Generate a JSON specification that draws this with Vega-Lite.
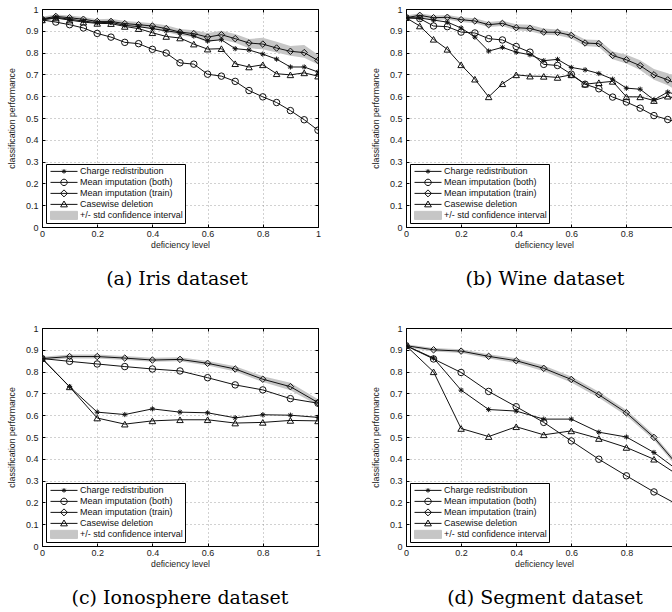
{
  "$schema": "https://vega.github.io/schema/vega-lite/v6.json",
  "background": "white",
  "padding": {"left": 7, "top": 5, "right": 0, "bottom": 0},
  "columns": 2,
  "spacing": {"row": 101, "column": 88},
  "bounds": "flush",
  "resolve": {"scale": {"shape": "independent", "fill": "independent", "stroke": "independent"}},
  "datasets": {
    "a": [
      {"x": 0, "Charge redistribution": 0.952, "Mean imputation (both)": 0.95, "Mean imputation (train)": 0.955, "Casewise deletion": 0.95, "lo": 0.945, "hi": 0.965},
      {"x": 0.05, "Charge redistribution": 0.962, "Mean imputation (both)": 0.94, "Mean imputation (train)": 0.966, "Casewise deletion": 0.959, "lo": 0.955, "hi": 0.975},
      {"x": 0.1, "Charge redistribution": 0.953, "Mean imputation (both)": 0.928, "Mean imputation (train)": 0.96, "Casewise deletion": 0.949, "lo": 0.95, "hi": 0.97},
      {"x": 0.15, "Charge redistribution": 0.945, "Mean imputation (both)": 0.913, "Mean imputation (train)": 0.953, "Casewise deletion": 0.94, "lo": 0.943, "hi": 0.963},
      {"x": 0.2, "Charge redistribution": 0.937, "Mean imputation (both)": 0.888, "Mean imputation (train)": 0.943, "Casewise deletion": 0.934, "lo": 0.933, "hi": 0.953},
      {"x": 0.25, "Charge redistribution": 0.939, "Mean imputation (both)": 0.871, "Mean imputation (train)": 0.943, "Casewise deletion": 0.933, "lo": 0.933, "hi": 0.955},
      {"x": 0.3, "Charge redistribution": 0.925, "Mean imputation (both)": 0.847, "Mean imputation (train)": 0.933, "Casewise deletion": 0.92, "lo": 0.922, "hi": 0.945},
      {"x": 0.35, "Charge redistribution": 0.919, "Mean imputation (both)": 0.841, "Mean imputation (train)": 0.928, "Casewise deletion": 0.91, "lo": 0.917, "hi": 0.94},
      {"x": 0.4, "Charge redistribution": 0.91, "Mean imputation (both)": 0.815, "Mean imputation (train)": 0.922, "Casewise deletion": 0.891, "lo": 0.908, "hi": 0.935},
      {"x": 0.45, "Charge redistribution": 0.9, "Mean imputation (both)": 0.798, "Mean imputation (train)": 0.91, "Casewise deletion": 0.874, "lo": 0.895, "hi": 0.925},
      {"x": 0.5, "Charge redistribution": 0.891, "Mean imputation (both)": 0.753, "Mean imputation (train)": 0.894, "Casewise deletion": 0.867, "lo": 0.878, "hi": 0.908},
      {"x": 0.55, "Charge redistribution": 0.876, "Mean imputation (both)": 0.747, "Mean imputation (train)": 0.887, "Casewise deletion": 0.839, "lo": 0.872, "hi": 0.902},
      {"x": 0.6, "Charge redistribution": 0.853, "Mean imputation (both)": 0.701, "Mean imputation (train)": 0.871, "Casewise deletion": 0.816, "lo": 0.848, "hi": 0.89},
      {"x": 0.65, "Charge redistribution": 0.859, "Mean imputation (both)": 0.692, "Mean imputation (train)": 0.882, "Casewise deletion": 0.818, "lo": 0.86, "hi": 0.9},
      {"x": 0.7, "Charge redistribution": 0.818, "Mean imputation (both)": 0.668, "Mean imputation (train)": 0.864, "Casewise deletion": 0.749, "lo": 0.845, "hi": 0.885},
      {"x": 0.75, "Charge redistribution": 0.812, "Mean imputation (both)": 0.626, "Mean imputation (train)": 0.844, "Casewise deletion": 0.734, "lo": 0.82, "hi": 0.862},
      {"x": 0.8, "Charge redistribution": 0.793, "Mean imputation (both)": 0.597, "Mean imputation (train)": 0.839, "Casewise deletion": 0.744, "lo": 0.815, "hi": 0.868},
      {"x": 0.85, "Charge redistribution": 0.77, "Mean imputation (both)": 0.571, "Mean imputation (train)": 0.821, "Casewise deletion": 0.703, "lo": 0.8, "hi": 0.85},
      {"x": 0.9, "Charge redistribution": 0.734, "Mean imputation (both)": 0.534, "Mean imputation (train)": 0.806, "Casewise deletion": 0.698, "lo": 0.785, "hi": 0.83},
      {"x": 0.95, "Charge redistribution": 0.734, "Mean imputation (both)": 0.492, "Mean imputation (train)": 0.8, "Casewise deletion": 0.707, "lo": 0.776, "hi": 0.835},
      {"x": 1, "Charge redistribution": 0.711, "Mean imputation (both)": 0.444, "Mean imputation (train)": 0.764, "Casewise deletion": 0.692, "lo": 0.745, "hi": 0.79}
    ],
    "b": [
      {"x": 0, "Charge redistribution": 0.96, "Mean imputation (both)": 0.96, "Mean imputation (train)": 0.96, "Casewise deletion": 0.96, "lo": 0.95, "hi": 0.97},
      {"x": 0.05, "Charge redistribution": 0.959, "Mean imputation (both)": 0.956, "Mean imputation (train)": 0.971, "Casewise deletion": 0.922, "lo": 0.96, "hi": 0.98},
      {"x": 0.1, "Charge redistribution": 0.949, "Mean imputation (both)": 0.922, "Mean imputation (train)": 0.96, "Casewise deletion": 0.861, "lo": 0.95, "hi": 0.97},
      {"x": 0.15, "Charge redistribution": 0.94, "Mean imputation (both)": 0.919, "Mean imputation (train)": 0.962, "Casewise deletion": 0.815, "lo": 0.952, "hi": 0.972},
      {"x": 0.2, "Charge redistribution": 0.913, "Mean imputation (both)": 0.894, "Mean imputation (train)": 0.951, "Casewise deletion": 0.744, "lo": 0.94, "hi": 0.962},
      {"x": 0.25, "Charge redistribution": 0.871, "Mean imputation (both)": 0.89, "Mean imputation (train)": 0.945, "Casewise deletion": 0.678, "lo": 0.935, "hi": 0.957},
      {"x": 0.3, "Charge redistribution": 0.807, "Mean imputation (both)": 0.864, "Mean imputation (train)": 0.928, "Casewise deletion": 0.597, "lo": 0.917, "hi": 0.94},
      {"x": 0.35, "Charge redistribution": 0.824, "Mean imputation (both)": 0.858, "Mean imputation (train)": 0.934, "Casewise deletion": 0.657, "lo": 0.922, "hi": 0.946},
      {"x": 0.4, "Charge redistribution": 0.802, "Mean imputation (both)": 0.828, "Mean imputation (train)": 0.914, "Casewise deletion": 0.698, "lo": 0.902, "hi": 0.93},
      {"x": 0.45, "Charge redistribution": 0.79, "Mean imputation (both)": 0.802, "Mean imputation (train)": 0.911, "Casewise deletion": 0.692, "lo": 0.898, "hi": 0.928},
      {"x": 0.5, "Charge redistribution": 0.763, "Mean imputation (both)": 0.746, "Mean imputation (train)": 0.894, "Casewise deletion": 0.691, "lo": 0.882, "hi": 0.91},
      {"x": 0.55, "Charge redistribution": 0.769, "Mean imputation (both)": 0.741, "Mean imputation (train)": 0.893, "Casewise deletion": 0.686, "lo": 0.88, "hi": 0.906},
      {"x": 0.6, "Charge redistribution": 0.732, "Mean imputation (both)": 0.701, "Mean imputation (train)": 0.879, "Casewise deletion": 0.698, "lo": 0.865, "hi": 0.892},
      {"x": 0.65, "Charge redistribution": 0.721, "Mean imputation (both)": 0.655, "Mean imputation (train)": 0.844, "Casewise deletion": 0.655, "lo": 0.83, "hi": 0.86},
      {"x": 0.7, "Charge redistribution": 0.704, "Mean imputation (both)": 0.634, "Mean imputation (train)": 0.841, "Casewise deletion": 0.662, "lo": 0.826, "hi": 0.858},
      {"x": 0.75, "Charge redistribution": 0.678, "Mean imputation (both)": 0.596, "Mean imputation (train)": 0.787, "Casewise deletion": 0.668, "lo": 0.77, "hi": 0.805},
      {"x": 0.8, "Charge redistribution": 0.637, "Mean imputation (both)": 0.573, "Mean imputation (train)": 0.767, "Casewise deletion": 0.597, "lo": 0.75, "hi": 0.79},
      {"x": 0.85, "Charge redistribution": 0.632, "Mean imputation (both)": 0.545, "Mean imputation (train)": 0.74, "Casewise deletion": 0.597, "lo": 0.72, "hi": 0.765},
      {"x": 0.9, "Charge redistribution": 0.583, "Mean imputation (both)": 0.511, "Mean imputation (train)": 0.698, "Casewise deletion": 0.58, "lo": 0.675, "hi": 0.725},
      {"x": 0.95, "Charge redistribution": 0.619, "Mean imputation (both)": 0.493, "Mean imputation (train)": 0.675, "Casewise deletion": 0.6, "lo": 0.65, "hi": 0.705},
      {"x": 1, "Charge redistribution": 0.6, "Mean imputation (both)": 0.475, "Mean imputation (train)": 0.645, "Casewise deletion": 0.58, "lo": 0.615, "hi": 0.675}
    ],
    "c": [
      {"x": 0, "Charge redistribution": 0.86, "Mean imputation (both)": 0.86, "Mean imputation (train)": 0.86, "Casewise deletion": 0.86, "lo": 0.852, "hi": 0.868},
      {"x": 0.1, "Charge redistribution": 0.731, "Mean imputation (both)": 0.847, "Mean imputation (train)": 0.869, "Casewise deletion": 0.73, "lo": 0.86, "hi": 0.878},
      {"x": 0.2, "Charge redistribution": 0.614, "Mean imputation (both)": 0.835, "Mean imputation (train)": 0.869, "Casewise deletion": 0.587, "lo": 0.86, "hi": 0.879},
      {"x": 0.3, "Charge redistribution": 0.603, "Mean imputation (both)": 0.823, "Mean imputation (train)": 0.862, "Casewise deletion": 0.559, "lo": 0.853, "hi": 0.872},
      {"x": 0.4, "Charge redistribution": 0.629, "Mean imputation (both)": 0.812, "Mean imputation (train)": 0.853, "Casewise deletion": 0.574, "lo": 0.845, "hi": 0.863},
      {"x": 0.5, "Charge redistribution": 0.614, "Mean imputation (both)": 0.803, "Mean imputation (train)": 0.856, "Casewise deletion": 0.579, "lo": 0.848, "hi": 0.866},
      {"x": 0.6, "Charge redistribution": 0.611, "Mean imputation (both)": 0.772, "Mean imputation (train)": 0.838, "Casewise deletion": 0.579, "lo": 0.828, "hi": 0.849},
      {"x": 0.7, "Charge redistribution": 0.588, "Mean imputation (both)": 0.739, "Mean imputation (train)": 0.812, "Casewise deletion": 0.564, "lo": 0.8, "hi": 0.824},
      {"x": 0.8, "Charge redistribution": 0.602, "Mean imputation (both)": 0.716, "Mean imputation (train)": 0.765, "Casewise deletion": 0.567, "lo": 0.752, "hi": 0.779},
      {"x": 0.9, "Charge redistribution": 0.6, "Mean imputation (both)": 0.676, "Mean imputation (train)": 0.731, "Casewise deletion": 0.576, "lo": 0.715, "hi": 0.749},
      {"x": 1, "Charge redistribution": 0.59, "Mean imputation (both)": 0.655, "Mean imputation (train)": 0.658, "Casewise deletion": 0.574, "lo": 0.645, "hi": 0.673}
    ],
    "d": [
      {"x": 0, "Charge redistribution": 0.919, "Mean imputation (both)": 0.919, "Mean imputation (train)": 0.919, "Casewise deletion": 0.919, "lo": 0.912, "hi": 0.926},
      {"x": 0.1, "Charge redistribution": 0.862, "Mean imputation (both)": 0.858, "Mean imputation (train)": 0.9, "Casewise deletion": 0.799, "lo": 0.892, "hi": 0.908},
      {"x": 0.2, "Charge redistribution": 0.715, "Mean imputation (both)": 0.796, "Mean imputation (train)": 0.894, "Casewise deletion": 0.539, "lo": 0.885, "hi": 0.903},
      {"x": 0.3, "Charge redistribution": 0.626, "Mean imputation (both)": 0.709, "Mean imputation (train)": 0.87, "Casewise deletion": 0.502, "lo": 0.86, "hi": 0.88},
      {"x": 0.4, "Charge redistribution": 0.619, "Mean imputation (both)": 0.639, "Mean imputation (train)": 0.85, "Casewise deletion": 0.547, "lo": 0.839, "hi": 0.861},
      {"x": 0.5, "Charge redistribution": 0.582, "Mean imputation (both)": 0.567, "Mean imputation (train)": 0.815, "Casewise deletion": 0.51, "lo": 0.802, "hi": 0.828},
      {"x": 0.6, "Charge redistribution": 0.582, "Mean imputation (both)": 0.482, "Mean imputation (train)": 0.764, "Casewise deletion": 0.528, "lo": 0.75, "hi": 0.778},
      {"x": 0.7, "Charge redistribution": 0.522, "Mean imputation (both)": 0.398, "Mean imputation (train)": 0.694, "Casewise deletion": 0.493, "lo": 0.68, "hi": 0.708},
      {"x": 0.8, "Charge redistribution": 0.5, "Mean imputation (both)": 0.322, "Mean imputation (train)": 0.611, "Casewise deletion": 0.452, "lo": 0.598, "hi": 0.624},
      {"x": 0.9, "Charge redistribution": 0.429, "Mean imputation (both)": 0.248, "Mean imputation (train)": 0.498, "Casewise deletion": 0.398, "lo": 0.486, "hi": 0.51},
      {"x": 1, "Charge redistribution": 0.335, "Mean imputation (both)": 0.18, "Mean imputation (train)": 0.35, "Casewise deletion": 0.315, "lo": 0.338, "hi": 0.362}
    ]
  },
  "concat": [
    {
      "width": 276, "height": 218,
      "data": {"name": "a"},
      "title": {"text": "(a) Iris dataset", "dx": -3},
      "resolve": {"scale": {"shape": "independent", "fill": "independent", "stroke": "independent"}, "axis": {"x": "independent", "y": "independent"}},
      "layer": [
        {"mark": {"type": "area", "color": "#c6c6c6", "clip": true},
         "encoding": {
           "x": {"field": "x", "type": "quantitative", "scale": {"domain": [0, 1], "nice": false, "zero": false}, "axis": {"orient": "top", "values": [0, 0.2, 0.4, 0.6, 0.8, 1], "labels": false, "grid": false, "title": null}},
           "y": {"field": "lo", "type": "quantitative", "scale": {"domain": [0, 1], "nice": false}, "axis": {"orient": "right", "values": [0, 0.1, 0.2, 0.3, 0.4, 0.5, 0.6, 0.7, 0.8, 0.9, 1], "labels": false, "grid": false, "title": null}},
           "y2": {"field": "hi"}}},
        {"transform": [{"fold": ["Charge redistribution", "Mean imputation (both)", "Mean imputation (train)", "Casewise deletion"], "as": ["series", "y"]}],
         "mark": {"type": "line", "color": "#111", "strokeWidth": 1, "clip": true},
         "encoding": {
           "x": {"field": "x", "type": "quantitative", "scale": {"domain": [0, 1], "nice": false, "zero": false}, "axis": {"orient": "bottom", "values": [0, 0.2, 0.4, 0.6, 0.8, 1], "format": "~g", "grid": true, "labelPadding": 5, "title": "deficiency level", "titlePadding": 2}},
           "y": {"field": "y", "type": "quantitative", "scale": {"domain": [0, 1], "nice": false}, "axis": {"orient": "left", "values": [0, 0.1, 0.2, 0.3, 0.4, 0.5, 0.6, 0.7, 0.8, 0.9, 1], "format": "~g", "grid": true, "labelPadding": 7, "title": "classification performance", "titlePadding": 9}},
           "detail": {"field": "series"}}},
        {"transform": [{"fold": ["Charge redistribution", "Mean imputation (both)", "Mean imputation (train)", "Casewise deletion"], "as": ["series", "y"]}],
         "mark": {"type": "point", "filled": false, "color": "#111", "size": 42, "strokeWidth": 1, "opacity": 1, "clip": true},
         "encoding": {
           "x": {"field": "x", "type": "quantitative", "scale": {"domain": [0, 1], "nice": false, "zero": false}, "axis": null},
           "y": {"field": "y", "type": "quantitative", "scale": {"domain": [0, 1], "nice": false}, "axis": null},
           "shape": {"field": "series", "scale": {"domain": ["Charge redistribution", "Mean imputation (both)", "Mean imputation (train)", "Casewise deletion"], "range": ["M-0.8,0H0.8M0,-0.8V0.8M-0.57,-0.57L0.57,0.57M-0.57,0.57L0.57,-0.57", "circle", "diamond", "triangle-up"]}, "legend": null}}},
        {"transform": [{"fold": ["Charge redistribution", "Mean imputation (both)", "Mean imputation (train)", "Casewise deletion"], "as": ["series", "y"]}, {"filter": "datum.x < 0"}],
         "mark": {"type": "point", "filled": true, "size": 81, "strokeWidth": 1, "opacity": 1},
         "encoding": {
           "x": {"field": "x", "type": "quantitative", "scale": {"domain": [0, 1], "nice": false, "zero": false}, "axis": null},
           "y": {"field": "y", "type": "quantitative", "scale": {"domain": [0, 1], "nice": false}, "axis": null},
           "shape": {"field": "series", "scale": {"domain": ["Charge redistribution", "Mean imputation (both)", "Mean imputation (train)", "Casewise deletion", "+/- std confidence interval"], "range": ["M-3,0H3M-0.5,0H0.5M0,-0.5V0.5M-0.36,-0.36L0.36,0.36M-0.36,0.36L0.36,-0.36", "M-3,0H3M0.71,0A0.71,0.71,0,1,1,-0.71,0A0.71,0.71,0,1,1,0.71,0", "M-3,0H3M-0.78,0L0,-0.78L0.78,0L0,0.78Z", "M-3,0H3M0,-0.75L0.75,0.55L-0.75,0.55Z", "M-3,-0.9H3V0.9H-3Z"]}, "legend": {"title": null}},
           "fill": {"field": "series", "scale": {"domain": ["Charge redistribution", "Mean imputation (both)", "Mean imputation (train)", "Casewise deletion", "+/- std confidence interval"], "range": ["transparent", "transparent", "transparent", "transparent", "#c6c6c6"]}, "legend": {"title": null}},
           "stroke": {"field": "series", "scale": {"domain": ["Charge redistribution", "Mean imputation (both)", "Mean imputation (train)", "Casewise deletion", "+/- std confidence interval"], "range": ["#111", "#111", "#111", "#111", "#c6c6c6"]}, "legend": {"title": null}}}}
      ]
    },
    {
      "width": 266, "height": 218,
      "data": {"name": "b"},
      "title": {"text": "(b) Wine dataset", "dx": 6},
      "resolve": {"scale": {"shape": "independent", "fill": "independent", "stroke": "independent"}, "axis": {"x": "independent", "y": "independent"}},
      "layer": [
        {"mark": {"type": "area", "color": "#c6c6c6", "clip": true},
         "encoding": {
           "x": {"field": "x", "type": "quantitative", "scale": {"domain": [0, 0.9655], "nice": false, "zero": false}, "axis": {"orient": "top", "values": [0, 0.2, 0.4, 0.6, 0.8], "labels": false, "grid": false, "title": null}},
           "y": {"field": "lo", "type": "quantitative", "scale": {"domain": [0, 1], "nice": false}, "axis": null},
           "y2": {"field": "hi"}}},
        {"transform": [{"fold": ["Charge redistribution", "Mean imputation (both)", "Mean imputation (train)", "Casewise deletion"], "as": ["series", "y"]}],
         "mark": {"type": "line", "color": "#111", "strokeWidth": 1, "clip": true},
         "encoding": {
           "x": {"field": "x", "type": "quantitative", "scale": {"domain": [0, 0.9655], "nice": false, "zero": false}, "axis": {"orient": "bottom", "values": [0, 0.2, 0.4, 0.6, 0.8], "format": "~g", "grid": true, "labelPadding": 5, "title": "deficiency level", "titlePadding": 2, "titleX": 138}},
           "y": {"field": "y", "type": "quantitative", "scale": {"domain": [0, 1], "nice": false}, "axis": {"orient": "left", "values": [0, 0.1, 0.2, 0.3, 0.4, 0.5, 0.6, 0.7, 0.8, 0.9, 1], "format": "~g", "grid": true, "labelPadding": 7, "title": "classification performance", "titlePadding": 9}},
           "detail": {"field": "series"}}},
        {"transform": [{"fold": ["Charge redistribution", "Mean imputation (both)", "Mean imputation (train)", "Casewise deletion"], "as": ["series", "y"]}],
         "mark": {"type": "point", "filled": false, "color": "#111", "size": 42, "strokeWidth": 1, "opacity": 1, "clip": true},
         "encoding": {
           "x": {"field": "x", "type": "quantitative", "scale": {"domain": [0, 0.9655], "nice": false, "zero": false}, "axis": null},
           "y": {"field": "y", "type": "quantitative", "scale": {"domain": [0, 1], "nice": false}, "axis": null},
           "shape": {"field": "series", "scale": {"domain": ["Charge redistribution", "Mean imputation (both)", "Mean imputation (train)", "Casewise deletion"], "range": ["M-0.8,0H0.8M0,-0.8V0.8M-0.57,-0.57L0.57,0.57M-0.57,0.57L0.57,-0.57", "circle", "diamond", "triangle-up"]}, "legend": null}}},
        {"transform": [{"fold": ["Charge redistribution", "Mean imputation (both)", "Mean imputation (train)", "Casewise deletion"], "as": ["series", "y"]}, {"filter": "datum.x < 0"}],
         "mark": {"type": "point", "filled": true, "size": 81, "strokeWidth": 1, "opacity": 1},
         "encoding": {
           "x": {"field": "x", "type": "quantitative", "scale": {"domain": [0, 0.9655], "nice": false, "zero": false}, "axis": null},
           "y": {"field": "y", "type": "quantitative", "scale": {"domain": [0, 1], "nice": false}, "axis": null},
           "shape": {"field": "series", "scale": {"domain": ["Charge redistribution", "Mean imputation (both)", "Mean imputation (train)", "Casewise deletion", "+/- std confidence interval"], "range": ["M-3,0H3M-0.5,0H0.5M0,-0.5V0.5M-0.36,-0.36L0.36,0.36M-0.36,0.36L0.36,-0.36", "M-3,0H3M0.71,0A0.71,0.71,0,1,1,-0.71,0A0.71,0.71,0,1,1,0.71,0", "M-3,0H3M-0.78,0L0,-0.78L0.78,0L0,0.78Z", "M-3,0H3M0,-0.75L0.75,0.55L-0.75,0.55Z", "M-3,-0.9H3V0.9H-3Z"]}, "legend": {"title": null}},
           "fill": {"field": "series", "scale": {"domain": ["Charge redistribution", "Mean imputation (both)", "Mean imputation (train)", "Casewise deletion", "+/- std confidence interval"], "range": ["transparent", "transparent", "transparent", "transparent", "#c6c6c6"]}, "legend": {"title": null}},
           "stroke": {"field": "series", "scale": {"domain": ["Charge redistribution", "Mean imputation (both)", "Mean imputation (train)", "Casewise deletion", "+/- std confidence interval"], "range": ["#111", "#111", "#111", "#111", "#c6c6c6"]}, "legend": {"title": null}}}}
      ]
    },
    {
      "width": 276, "height": 218,
      "data": {"name": "c"},
      "title": {"text": "(c) Ionosphere dataset"},
      "resolve": {"scale": {"shape": "independent", "fill": "independent", "stroke": "independent"}, "axis": {"x": "independent", "y": "independent"}},
      "layer": [
        {"mark": {"type": "area", "color": "#c6c6c6", "clip": true},
         "encoding": {
           "x": {"field": "x", "type": "quantitative", "scale": {"domain": [0, 1], "nice": false, "zero": false}, "axis": {"orient": "top", "values": [0, 0.2, 0.4, 0.6, 0.8, 1], "labels": false, "grid": false, "title": null}},
           "y": {"field": "lo", "type": "quantitative", "scale": {"domain": [0, 1], "nice": false}, "axis": {"orient": "right", "values": [0, 0.1, 0.2, 0.3, 0.4, 0.5, 0.6, 0.7, 0.8, 0.9, 1], "labels": false, "grid": false, "title": null}},
           "y2": {"field": "hi"}}},
        {"transform": [{"fold": ["Charge redistribution", "Mean imputation (both)", "Mean imputation (train)", "Casewise deletion"], "as": ["series", "y"]}],
         "mark": {"type": "line", "color": "#111", "strokeWidth": 1, "clip": true},
         "encoding": {
           "x": {"field": "x", "type": "quantitative", "scale": {"domain": [0, 1], "nice": false, "zero": false}, "axis": {"orient": "bottom", "values": [0, 0.2, 0.4, 0.6, 0.8, 1], "format": "~g", "grid": true, "labelPadding": 5, "title": "deficiency level", "titlePadding": 2}},
           "y": {"field": "y", "type": "quantitative", "scale": {"domain": [0, 1], "nice": false}, "axis": {"orient": "left", "values": [0, 0.1, 0.2, 0.3, 0.4, 0.5, 0.6, 0.7, 0.8, 0.9, 1], "format": "~g", "grid": true, "labelPadding": 7, "title": "classification performance", "titlePadding": 9}},
           "detail": {"field": "series"}}},
        {"transform": [{"fold": ["Charge redistribution", "Mean imputation (both)", "Mean imputation (train)", "Casewise deletion"], "as": ["series", "y"]}],
         "mark": {"type": "point", "filled": false, "color": "#111", "size": 42, "strokeWidth": 1, "opacity": 1, "clip": true},
         "encoding": {
           "x": {"field": "x", "type": "quantitative", "scale": {"domain": [0, 1], "nice": false, "zero": false}, "axis": null},
           "y": {"field": "y", "type": "quantitative", "scale": {"domain": [0, 1], "nice": false}, "axis": null},
           "shape": {"field": "series", "scale": {"domain": ["Charge redistribution", "Mean imputation (both)", "Mean imputation (train)", "Casewise deletion"], "range": ["M-0.8,0H0.8M0,-0.8V0.8M-0.57,-0.57L0.57,0.57M-0.57,0.57L0.57,-0.57", "circle", "diamond", "triangle-up"]}, "legend": null}}},
        {"transform": [{"fold": ["Charge redistribution", "Mean imputation (both)", "Mean imputation (train)", "Casewise deletion"], "as": ["series", "y"]}, {"filter": "datum.x < 0"}],
         "mark": {"type": "point", "filled": true, "size": 81, "strokeWidth": 1, "opacity": 1},
         "encoding": {
           "x": {"field": "x", "type": "quantitative", "scale": {"domain": [0, 1], "nice": false, "zero": false}, "axis": null},
           "y": {"field": "y", "type": "quantitative", "scale": {"domain": [0, 1], "nice": false}, "axis": null},
           "shape": {"field": "series", "scale": {"domain": ["Charge redistribution", "Mean imputation (both)", "Mean imputation (train)", "Casewise deletion", "+/- std confidence interval"], "range": ["M-3,0H3M-0.5,0H0.5M0,-0.5V0.5M-0.36,-0.36L0.36,0.36M-0.36,0.36L0.36,-0.36", "M-3,0H3M0.71,0A0.71,0.71,0,1,1,-0.71,0A0.71,0.71,0,1,1,0.71,0", "M-3,0H3M-0.78,0L0,-0.78L0.78,0L0,0.78Z", "M-3,0H3M0,-0.75L0.75,0.55L-0.75,0.55Z", "M-3,-0.9H3V0.9H-3Z"]}, "legend": {"title": null}},
           "fill": {"field": "series", "scale": {"domain": ["Charge redistribution", "Mean imputation (both)", "Mean imputation (train)", "Casewise deletion", "+/- std confidence interval"], "range": ["transparent", "transparent", "transparent", "transparent", "#c6c6c6"]}, "legend": {"title": null}},
           "stroke": {"field": "series", "scale": {"domain": ["Charge redistribution", "Mean imputation (both)", "Mean imputation (train)", "Casewise deletion", "+/- std confidence interval"], "range": ["#111", "#111", "#111", "#111", "#c6c6c6"]}, "legend": {"title": null}}}}
      ]
    },
    {
      "width": 266, "height": 218,
      "data": {"name": "d"},
      "title": {"text": "(d) Segment dataset", "dx": 6},
      "resolve": {"scale": {"shape": "independent", "fill": "independent", "stroke": "independent"}, "axis": {"x": "independent", "y": "independent"}},
      "layer": [
        {"mark": {"type": "area", "color": "#c6c6c6", "clip": true},
         "encoding": {
           "x": {"field": "x", "type": "quantitative", "scale": {"domain": [0, 0.9655], "nice": false, "zero": false}, "axis": {"orient": "top", "values": [0, 0.2, 0.4, 0.6, 0.8], "labels": false, "grid": false, "title": null}},
           "y": {"field": "lo", "type": "quantitative", "scale": {"domain": [0, 1], "nice": false}, "axis": null},
           "y2": {"field": "hi"}}},
        {"transform": [{"fold": ["Charge redistribution", "Mean imputation (both)", "Mean imputation (train)", "Casewise deletion"], "as": ["series", "y"]}],
         "mark": {"type": "line", "color": "#111", "strokeWidth": 1, "clip": true},
         "encoding": {
           "x": {"field": "x", "type": "quantitative", "scale": {"domain": [0, 0.9655], "nice": false, "zero": false}, "axis": {"orient": "bottom", "values": [0, 0.2, 0.4, 0.6, 0.8], "format": "~g", "grid": true, "labelPadding": 5, "title": "deficiency level", "titlePadding": 2, "titleX": 138}},
           "y": {"field": "y", "type": "quantitative", "scale": {"domain": [0, 1], "nice": false}, "axis": {"orient": "left", "values": [0, 0.1, 0.2, 0.3, 0.4, 0.5, 0.6, 0.7, 0.8, 0.9, 1], "format": "~g", "grid": true, "labelPadding": 7, "title": "classification performance", "titlePadding": 9}},
           "detail": {"field": "series"}}},
        {"transform": [{"fold": ["Charge redistribution", "Mean imputation (both)", "Mean imputation (train)", "Casewise deletion"], "as": ["series", "y"]}],
         "mark": {"type": "point", "filled": false, "color": "#111", "size": 42, "strokeWidth": 1, "opacity": 1, "clip": true},
         "encoding": {
           "x": {"field": "x", "type": "quantitative", "scale": {"domain": [0, 0.9655], "nice": false, "zero": false}, "axis": null},
           "y": {"field": "y", "type": "quantitative", "scale": {"domain": [0, 1], "nice": false}, "axis": null},
           "shape": {"field": "series", "scale": {"domain": ["Charge redistribution", "Mean imputation (both)", "Mean imputation (train)", "Casewise deletion"], "range": ["M-0.8,0H0.8M0,-0.8V0.8M-0.57,-0.57L0.57,0.57M-0.57,0.57L0.57,-0.57", "circle", "diamond", "triangle-up"]}, "legend": null}}},
        {"transform": [{"fold": ["Charge redistribution", "Mean imputation (both)", "Mean imputation (train)", "Casewise deletion"], "as": ["series", "y"]}, {"filter": "datum.x < 0"}],
         "mark": {"type": "point", "filled": true, "size": 81, "strokeWidth": 1, "opacity": 1},
         "encoding": {
           "x": {"field": "x", "type": "quantitative", "scale": {"domain": [0, 0.9655], "nice": false, "zero": false}, "axis": null},
           "y": {"field": "y", "type": "quantitative", "scale": {"domain": [0, 1], "nice": false}, "axis": null},
           "shape": {"field": "series", "scale": {"domain": ["Charge redistribution", "Mean imputation (both)", "Mean imputation (train)", "Casewise deletion", "+/- std confidence interval"], "range": ["M-3,0H3M-0.5,0H0.5M0,-0.5V0.5M-0.36,-0.36L0.36,0.36M-0.36,0.36L0.36,-0.36", "M-3,0H3M0.71,0A0.71,0.71,0,1,1,-0.71,0A0.71,0.71,0,1,1,0.71,0", "M-3,0H3M-0.78,0L0,-0.78L0.78,0L0,0.78Z", "M-3,0H3M0,-0.75L0.75,0.55L-0.75,0.55Z", "M-3,-0.9H3V0.9H-3Z"]}, "legend": {"title": null}},
           "fill": {"field": "series", "scale": {"domain": ["Charge redistribution", "Mean imputation (both)", "Mean imputation (train)", "Casewise deletion", "+/- std confidence interval"], "range": ["transparent", "transparent", "transparent", "transparent", "#c6c6c6"]}, "legend": {"title": null}},
           "stroke": {"field": "series", "scale": {"domain": ["Charge redistribution", "Mean imputation (both)", "Mean imputation (train)", "Casewise deletion", "+/- std confidence interval"], "range": ["#111", "#111", "#111", "#111", "#c6c6c6"]}, "legend": {"title": null}}}}
      ]
    }
  ],
  "config": {
    "view": {"stroke": null},
    "font": "Liberation Sans",
    "axis": {"labelFont": "Liberation Sans", "labelFontSize": 9, "labelColor": "#1a1a1a", "titleFont": "Liberation Sans", "titleFontSize": 8.7, "titleFontWeight": "normal", "titleColor": "#1a1a1a", "domainColor": "#000", "domainWidth": 1, "tickColor": "#000", "tickWidth": 1, "tickSize": -3, "gridColor": "#8a8a8a", "gridDash": [1, 3], "gridWidth": 0.8, "labelFlush": false, "labelOverlap": false},
    "legend": {"orient": "bottom-left", "offset": 4, "padding": 2, "strokeColor": "#000", "strokeWidth": 1, "fillColor": "#fff", "labelFont": "Liberation Sans", "labelFontSize": 9, "labelColor": "#111", "labelOffset": 11, "symbolOffset": 11, "rowPadding": 0, "clipHeight": 10.75, "symbolSize": 81, "symbolStrokeWidth": 1, "symbolOpacity": 1, "labelLimit": 300, "cornerRadius": 0},
    "title": {"font": "DejaVu Serif", "fontSize": 19, "fontWeight": "normal", "color": "#000", "orient": "bottom", "offset": 21, "frame": "group", "anchor": "middle"}
  }
}
